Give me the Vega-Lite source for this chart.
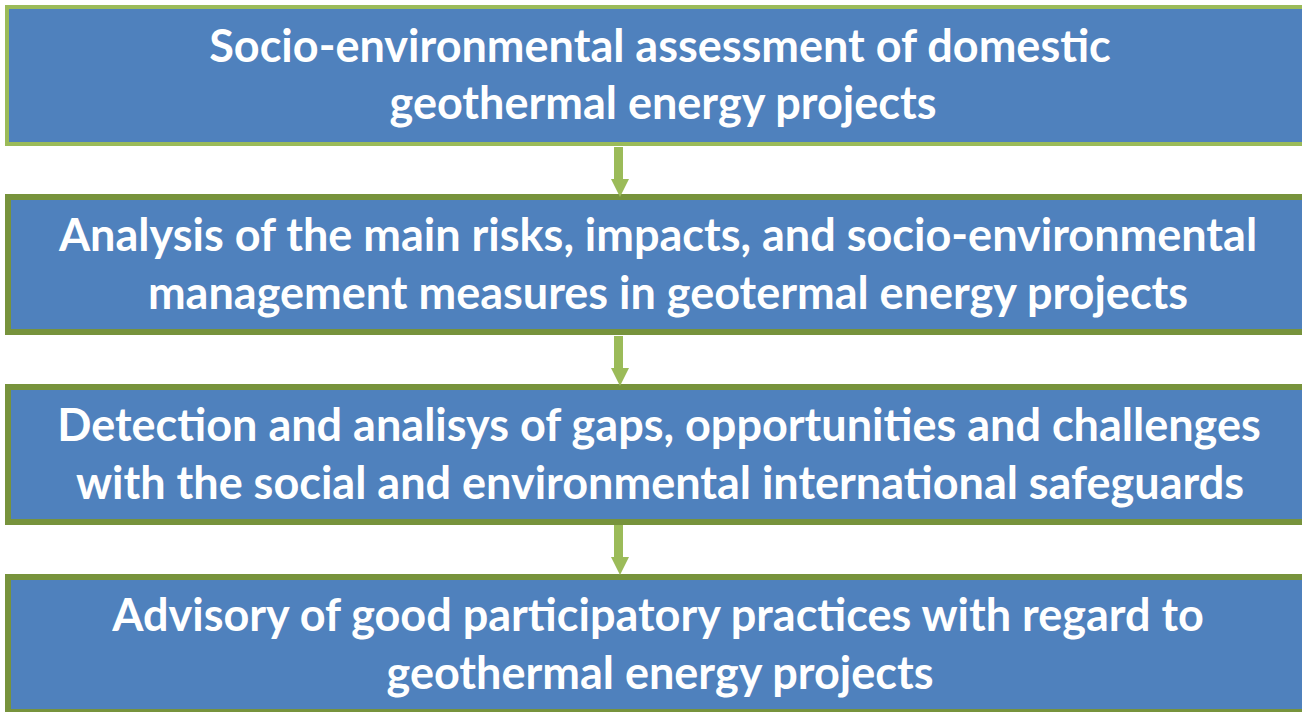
{
  "$schema": "https://vega.github.io/schema/vega-lite/v6.json",
  "width": 1302,
  "height": 712,
  "padding": 0,
  "autosize": "none",
  "background": "white",
  "config": {"view": {"stroke": null}},
  "datasets": {
    "boxes": [
      {"step": 1, "x0": 7, "x1": 1320, "y0": 7, "y1": 144},
      {"step": 2, "x0": 8, "x1": 1320, "y0": 197, "y1": 332},
      {"step": 3, "x0": 8, "x1": 1320, "y0": 387, "y1": 522},
      {"step": 4, "x0": 8, "x1": 1320, "y0": 577, "y1": 712}
    ],
    "arrows": [
      {"from": 1, "sx0": 614, "sx1": 623, "sy0": 147, "sy1": 180, "hx": 620, "hy": 188},
      {"from": 2, "sx0": 614, "sx1": 623, "sy0": 336, "sy1": 369, "hx": 620, "hy": 377},
      {"from": 3, "sx0": 614, "sx1": 623, "sy0": 525, "sy1": 558, "hx": 620, "hy": 566}
    ],
    "lines": [
      {"step": 1, "line": 1, "x": 660, "y": 48, "text": "Socio-environmental assessment of domestic"},
      {"step": 1, "line": 2, "x": 663, "y": 105, "text": "geothermal energy projects"},
      {"step": 2, "line": 1, "x": 658, "y": 237, "text": "Analysis of the main risks, impacts, and socio-environmental"},
      {"step": 2, "line": 2, "x": 668, "y": 295, "text": "management measures in geotermal energy projects"},
      {"step": 3, "line": 1, "x": 659, "y": 427, "text": "Detection and analisys of gaps, opportunities and challenges"},
      {"step": 3, "line": 2, "x": 660, "y": 485, "text": "with the social and environmental international safeguards"},
      {"step": 4, "line": 1, "x": 658, "y": 617, "text": "Advisory of good participatory practices with regard to"},
      {"step": 4, "line": 2, "x": 660, "y": 675, "text": "geothermal energy projects"}
    ]
  },
  "layer": [
    {
      "data": {"name": "boxes"},
      "transform": [{"filter": "datum.step == 1"}],
      "mark": {"type": "rect", "fill": "#4f81bd", "stroke": "#9bbb59", "strokeWidth": 4, "clip": true},
      "encoding": {
        "x": {"field": "x0", "type": "quantitative", "scale": {"domain": [0, 1302], "nice": false, "zero": false}, "axis": null},
        "x2": {"field": "x1"},
        "y": {"field": "y0", "type": "quantitative", "scale": {"domain": [0, 712], "nice": false, "zero": false, "reverse": true}, "axis": null},
        "y2": {"field": "y1"}
      }
    },
    {
      "data": {"name": "boxes"},
      "transform": [{"filter": "datum.step > 1"}],
      "mark": {"type": "rect", "fill": "#4f81bd", "stroke": "#77933c", "strokeWidth": 6, "clip": true},
      "encoding": {
        "x": {"field": "x0", "type": "quantitative", "scale": {"domain": [0, 1302], "nice": false, "zero": false}, "axis": null},
        "x2": {"field": "x1"},
        "y": {"field": "y0", "type": "quantitative", "scale": {"domain": [0, 712], "nice": false, "zero": false, "reverse": true}, "axis": null},
        "y2": {"field": "y1"}
      }
    },
    {
      "data": {"name": "arrows"},
      "mark": {"type": "rect", "fill": "#9bbb59"},
      "encoding": {
        "x": {"field": "sx0", "type": "quantitative", "scale": {"domain": [0, 1302], "nice": false, "zero": false}, "axis": null},
        "x2": {"field": "sx1"},
        "y": {"field": "sy0", "type": "quantitative", "scale": {"domain": [0, 712], "nice": false, "zero": false, "reverse": true}, "axis": null},
        "y2": {"field": "sy1"}
      }
    },
    {
      "data": {"name": "arrows"},
      "mark": {"type": "point", "shape": "M-1,-1L1,-1L0,1Z", "filled": true, "fill": "#9bbb59", "opacity": 1, "size": 324, "strokeWidth": 0},
      "encoding": {
        "x": {"field": "hx", "type": "quantitative", "scale": {"domain": [0, 1302], "nice": false, "zero": false}, "axis": null},
        "y": {"field": "hy", "type": "quantitative", "scale": {"domain": [0, 712], "nice": false, "zero": false, "reverse": true}, "axis": null}
      }
    },
    {
      "data": {"name": "lines"},
      "mark": {"type": "text", "font": "Lato", "fontWeight": "bold", "fontSize": 45, "fill": "white", "align": "center", "baseline": "middle"},
      "encoding": {
        "x": {"field": "x", "type": "quantitative", "scale": {"domain": [0, 1302], "nice": false, "zero": false}, "axis": null},
        "y": {"field": "y", "type": "quantitative", "scale": {"domain": [0, 712], "nice": false, "zero": false, "reverse": true}, "axis": null},
        "text": {"field": "text"}
      }
    }
  ]
}
